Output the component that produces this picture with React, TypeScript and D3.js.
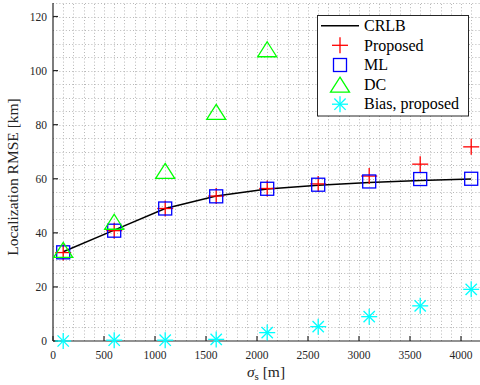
import React from 'react';
import * as d3 from 'd3';

// sigma_s values [m]
const sigmaS = [100, 600, 1100, 1600, 2100, 2600, 3100, 3600, 4100];
const crlb = [33.0, 41.0, 49.0, 53.6, 56.2, 57.6, 58.6, 59.4, 59.9];
const proposed = [32.7, 40.8, 49.0, 53.6, 56.4, 58.1, 61.0, 65.4, 71.8];
const ml = [32.8, 40.8, 49.0, 53.5, 56.3, 57.8, 59.0, 59.9, 60.0];
const dcSigma = [100, 600, 1100, 1600, 2100];
const dc = [33.7, 44.1, 62.9, 84.7, 107.9];
const bias = [0.0, 0.3, 0.3, 0.6, 3.1, 5.3, 9.0, 13.0, 19.1];

const xTicks = [0, 500, 1000, 1500, 2000, 2500, 3000, 3500, 4000];
const yTicks = [0, 20, 40, 60, 80, 100, 120];
const legendLabels = ['CRLB', 'Proposed', 'ML', 'DC', 'Bias, proposed'];

const W = 480;
const H = 385;
const axisColor = '#262626';
const font = 'Liberation Serif, DejaVu Serif, serif';

const plus = (x: number, y: number, k: string) => (
  <g key={k} stroke="#ff0000" strokeWidth={1.3}>
    <line x1={x - 8} x2={x + 8} y1={y} y2={y} />
    <line x1={x} x2={x} y1={y - 8} y2={y + 8} />
  </g>
);

const square = (x: number, y: number, k: string) => (
  <rect key={k} x={x - 6.5} y={y - 6.5} width={13} height={13} fill="none" stroke="#0000ff" strokeWidth={1.3} />
);

const triangle = (x: number, y: number, k: string) => (
  <path key={k} d={`M${x},${y - 7.5}L${x + 9.5},${y + 7.5}L${x - 9.5},${y + 7.5}Z`} fill="none" stroke="#00ff00" strokeWidth={1.3} />
);

const asterisk = (x: number, y: number, k: string) => {
  const r = 8;
  const d = r * 0.7071;
  return (
    <g key={k} stroke="#00ffff" strokeWidth={1.3}>
      <line x1={x - r} x2={x + r} y1={y} y2={y} />
      <line x1={x} x2={x} y1={y - r} y2={y + r} />
      <line x1={x - d} x2={x + d} y1={y - d} y2={y + d} />
      <line x1={x - d} x2={x + d} y1={y + d} y2={y - d} />
    </g>
  );
};

export default function App() {
  const x = d3.scaleLinear().domain([0, 4200]).range([53, 481.4]);
  const y = d3.scaleLinear().domain([0, 125]).range([341, 3]);

  const line = d3.line<number>()
    .x((_, i) => x(sigmaS[i]))
    .y((d) => y(d));

  const xMinor = d3.range(100, 4201, 100);
  const yMinor = d3.range(5, 126, 5);

  const lx = 340;
  const legendY = [25.7, 45.3, 65, 84.6, 104.2];

  return (
    <div style={{ position: 'fixed', left: 0, top: 0 }}>
      <svg width={W} height={H} style={{ display: 'block', background: '#fff' }}>
        <rect x={0} y={0} width={W} height={H} fill="#fff" />
        {/* dotted grid */}
        <g stroke="#b8b8b8" strokeWidth={1} strokeDasharray="1,2.2">
          {xMinor.map((v) => (
            <line key={'gx' + v} x1={Math.round(x(v)) + 0.5} x2={Math.round(x(v)) + 0.5} y1={y(0)} y2={y(125)} />
          ))}
          {yMinor.map((v) => (
            <line key={'gy' + v} x1={x(0)} x2={x(4200)} y1={Math.round(y(v)) + 0.5} y2={Math.round(y(v)) + 0.5} />
          ))}
        </g>

        {/* axes */}
        <g stroke={axisColor} strokeWidth={1.2}>
          <line x1={x(0)} x2={x(0)} y1={y(0)} y2={y(125)} />
          <line x1={x(0)} x2={x(4200)} y1={y(0)} y2={y(0)} />
          {xTicks.map((t) => (
            <line key={'xt' + t} x1={x(t)} x2={x(t)} y1={y(0)} y2={y(0) - 5} />
          ))}
          {yTicks.map((t) => (
            <line key={'yt' + t} x1={x(0)} x2={x(0) + 5} y1={y(t)} y2={y(t)} />
          ))}
        </g>
        <g fill={axisColor} style={{ fontFamily: font }} fontSize={11.5}>
          {xTicks.map((t) => (
            <text key={'xl' + t} x={x(t)} y={358.5} textAnchor="middle">{t}</text>
          ))}
          {yTicks.map((t) => (
            <text key={'yl' + t} x={x(0) - 6} y={y(t)} dy="0.35em" textAnchor="end">{t}</text>
          ))}
        </g>
        <text
          transform={`translate(18,177) rotate(-90)`}
          textAnchor="middle"
          style={{ fontFamily: font }}
          fontSize={15.5}
          fill={axisColor}
        >
          Localization RMSE [km]
        </text>
        <text x={266} y={377} textAnchor="middle" style={{ fontFamily: font }} fontSize={15.5} fill={axisColor}>
          <tspan fontStyle="italic">σ</tspan>
          <tspan fontSize={11} dy={3}>s</tspan>
          <tspan dy={-3}> [m]</tspan>
        </text>

        {/* series */}
        <path d={line(crlb) || ''} fill="none" stroke="#000" strokeWidth={1.5} />
        {proposed.map((v, i) => plus(x(sigmaS[i]), y(v), 'p' + i))}
        {ml.map((v, i) => square(x(sigmaS[i]), y(v), 'm' + i))}
        {dc.map((v, i) => triangle(x(dcSigma[i]), y(v), 'd' + i))}
        {bias.map((v, i) => asterisk(x(sigmaS[i]), y(v), 'b' + i))}

        {/* legend */}
        <rect x={317.5} y={15.5} width={151} height={100.5} fill="#fff" stroke={axisColor} strokeWidth={1} />
        <line x1={321} x2={359} y1={legendY[0]} y2={legendY[0]} stroke="#000" strokeWidth={1.5} />
        {plus(lx, legendY[1], 'lp')}
        {square(lx, legendY[2], 'lm')}
        {triangle(lx, legendY[3], 'ld')}
        {asterisk(lx, legendY[4], 'lb')}
        <g style={{ fontFamily: font }} fontSize={16} fill="#000">
          {legendLabels.map((s, i) => (
            <text key={s} x={364} y={legendY[i]} dy="0.33em">{s}</text>
          ))}
        </g>
      </svg>
    </div>
  );
}
